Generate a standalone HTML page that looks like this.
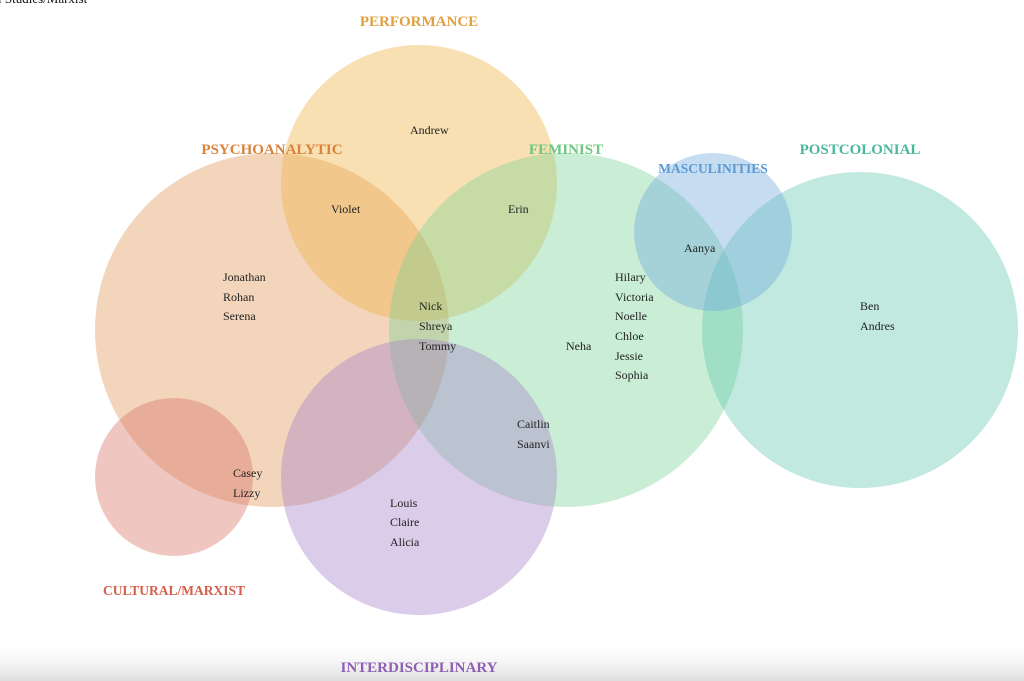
<!DOCTYPE html>
<html><head><meta charset="utf-8"><style>
html,body{margin:0;padding:0;background:#fff;width:1024px;height:681px;overflow:hidden}
svg{display:block}
text{font-family:"Liberation Serif",serif}
.l{font-weight:bold;font-size:15px}
.n{font-size:12px;fill:#222}
</style></head><body>
<svg width="1024" height="681" viewBox="0 0 1024 681">
<defs><linearGradient id="g" x1="0" y1="0" x2="0" y2="1"><stop offset="0" stop-color="#fff" stop-opacity="0"/><stop offset="1" stop-color="#ddd"/></linearGradient></defs>
<text x="-2" y="3" font-size="13" fill="#111">l Studies/Marxist</text>
<g>
<circle cx="272" cy="330" r="177" fill="#e39a5e" opacity="0.42"/>
<circle cx="419" cy="183" r="138" fill="#f0b64a" opacity="0.42"/>
<circle cx="566" cy="330" r="177" fill="#74d190" opacity="0.38"/>
<circle cx="860" cy="330" r="158" fill="#5cc6ad" opacity="0.38"/>
<circle cx="713" cy="232" r="79" fill="#6fa8dc" opacity="0.4"/>
<circle cx="174" cy="477" r="79" fill="#d9776a" opacity="0.42"/>
<circle cx="419" cy="477" r="138" fill="#a67fc8" opacity="0.4"/>
</g>
<text class="l" x="419" y="26" text-anchor="middle" fill="#e0a040">PERFORMANCE</text>
<text class="l" x="272" y="154" text-anchor="middle" fill="#d9823b">PSYCHOANALYTIC</text>
<text class="l" x="566" y="154" text-anchor="middle" fill="#6cc77f">FEMINIST</text>
<text class="l" x="713" y="173" text-anchor="middle" fill="#5b9bd5" style="font-size:13.5px">MASCULINITIES</text>
<text class="l" x="860" y="154" text-anchor="middle" fill="#4cb89a">POSTCOLONIAL</text>
<text class="l" x="174" y="595" text-anchor="middle" fill="#d65f4b" style="font-size:13.5px">CULTURAL/MARXIST</text>
<rect x="0" y="640" width="1024" height="41" fill="url(#g)"/>
<text class="l" x="419" y="672" text-anchor="middle" fill="#8e5fb5">INTERDISCIPLINARY</text>
<g class="n">
<text x="410" y="134" class="n">Andrew</text>
<text x="331" y="213" class="n">Violet</text>
<text x="508" y="213" class="n">Erin</text>
<text x="684" y="252" class="n">Aanya</text>
<text x="223" y="281" class="n">Jonathan</text>
<text x="223" y="301" class="n">Rohan</text>
<text x="223" y="320" class="n">Serena</text>
<text x="419" y="310" class="n">Nick</text>
<text x="419" y="330" class="n">Shreya</text>
<text x="419" y="350" class="n">Tommy</text>
<text x="566" y="350" class="n">Neha</text>
<text x="615" y="281" class="n">Hilary</text>
<text x="615" y="301" class="n">Victoria</text>
<text x="615" y="320" class="n">Noelle</text>
<text x="615" y="340" class="n">Chloe</text>
<text x="615" y="360" class="n">Jessie</text>
<text x="615" y="379" class="n">Sophia</text>
<text x="860" y="310" class="n">Ben</text>
<text x="860" y="330" class="n">Andres</text>
<text x="517" y="428" class="n">Caitlin</text>
<text x="517" y="448" class="n">Saanvi</text>
<text x="233" y="477" class="n">Casey</text>
<text x="233" y="497" class="n">Lizzy</text>
<text x="390" y="507" class="n">Louis</text>
<text x="390" y="526" class="n">Claire</text>
<text x="390" y="546" class="n">Alicia</text>
</g>
</svg>
</body></html>
